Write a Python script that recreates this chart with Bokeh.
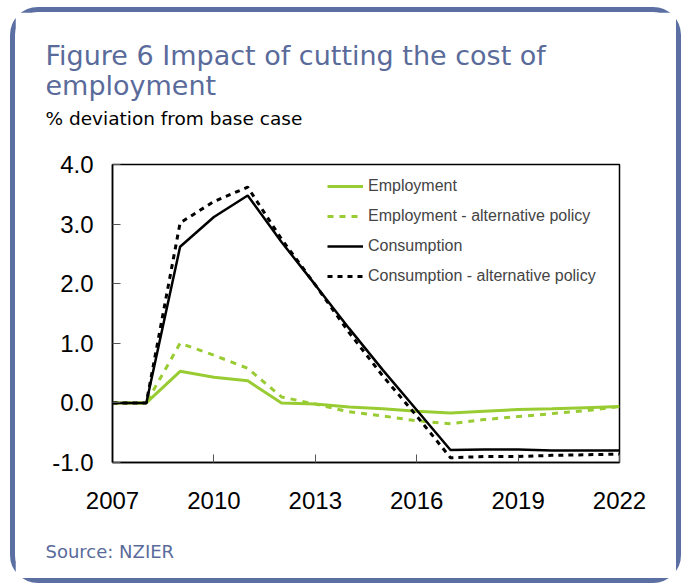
from bokeh.plotting import figure
from bokeh.models import (Range1d, FixedTicker, NumeralTickFormatter, Legend, LegendItem,
                          Title, ColumnDataSource)
from bokeh.embed import file_html
from bokeh.resources import INLINE

years = list(range(2007, 2023))
employment = [0.0, 0.0, 0.53, 0.43, 0.37, 0.0, -0.02, -0.07, -0.10, -0.14, -0.17, -0.14, -0.11, -0.10, -0.08, -0.06]
employment_alt = [0.0, 0.0, 1.0, 0.80, 0.58, 0.10, -0.02, -0.15, -0.22, -0.30, -0.35, -0.28, -0.23, -0.18, -0.13, -0.06]
consumption = [0.0, 0.0, 2.62, 3.12, 3.48, 2.70, 1.98, 1.25, 0.55, -0.12, -0.79, -0.78, -0.78, -0.80, -0.80, -0.80]
consumption_alt = [0.0, 0.0, 3.02, 3.38, 3.62, 2.75, 1.98, 1.18, 0.45, -0.22, -0.92, -0.90, -0.90, -0.88, -0.87, -0.86]
x_ticks = [2007, 2010, 2013, 2016, 2019, 2022]
y_ticks = [-1, 0, 1, 2, 3, 4]

title_text = "Figure 6 Impact of cutting the cost of\nemployment"
subtitle = "% deviation from base case"
source_text = "Source: NZIER"

GREEN = "#99cc33"
BLUE = "#5a6b9b"

src = ColumnDataSource(dict(year=years, emp=employment, emp_alt=employment_alt,
                            con=consumption, con_alt=consumption_alt))

p = figure(width=661, height=566, output_backend="svg", toolbar_location=None,
           x_range=Range1d(2007, 2022), y_range=Range1d(-1, 4),
           min_border_left=97, min_border_top=152, min_border_right=57, min_border_bottom=116,
           frame_width=507, frame_height=298)
p.title = None
p.styles = {"border": "5px solid #5b6fa3", "border-radius": "28px",
            "margin-left": "10px", "margin-top": "7px"}
p.background_fill_color = "white"
p.border_fill_color = "white"
p.outline_line_color = "black"
p.outline_line_width = 1.5
p.xgrid.visible = False
p.ygrid.visible = False

for ax in (p.xaxis[0], p.yaxis[0]):
    ax.axis_line_color = "black"
    ax.axis_line_width = 1.5
    ax.major_tick_in = 8
    ax.major_tick_out = 0
    ax.major_tick_line_color = "#555555"
    ax.minor_tick_line_color = None
    ax.major_label_text_font = "Liberation Sans"
    ax.major_label_text_font_size = "24px"
    ax.major_label_text_color = "black"

p.xaxis.ticker = FixedTicker(ticks=x_ticks)
p.yaxis.ticker = FixedTicker(ticks=y_ticks)
p.yaxis.formatter = NumeralTickFormatter(format="0.0")
p.xaxis.major_label_standoff = 29
p.yaxis.major_label_standoff = 19

r1 = p.line("year", "emp", source=src, line_color=GREEN, line_width=3)
r2 = p.line("year", "emp_alt", source=src, line_color=GREEN, line_width=3, line_dash="6 6")
r3 = p.line("year", "con", source=src, line_color="black", line_width=2.5)
r4 = p.line("year", "con_alt", source=src, line_color="black", line_width=3, line_dash="5 5")

legend = Legend(items=[LegendItem(label="Employment", renderers=[r1]),
                       LegendItem(label="Employment - alternative policy", renderers=[r2]),
                       LegendItem(label="Consumption", renderers=[r3]),
                       LegendItem(label="Consumption - alternative policy", renderers=[r4])],
                location=(215, 176), padding=0, margin=0, spacing=10,
                glyph_width=36, glyph_height=20, label_height=20, label_standoff=5,
                label_text_font="Liberation Sans", label_text_font_size="16px",
                border_line_color=None, background_fill_alpha=0)
p.add_layout(legend, "center")

def title(txt, size, color, standoff, line_height=1.0):
    return Title(text=txt, align="left", offset=-67, standoff=standoff,
                 text_font="DejaVu Sans", text_font_size=size, text_color=color,
                 text_font_style="normal", text_line_height=line_height)

# above: first added sits closest to the plot area
p.add_layout(title(" ", "10px", "white", 23), "above")          # spacer
p.add_layout(title(subtitle, "18.5px", "black", 0), "above")
p.add_layout(title(title_text, "27px", BLUE, 9, 0.96), "above")
# below
p.add_layout(title(" ", "10px", "white", 14), "below")          # spacer
p.add_layout(title(source_text, "18px", BLUE, 0), "below")

open("out.html", "w").write(file_html(p, INLINE))
